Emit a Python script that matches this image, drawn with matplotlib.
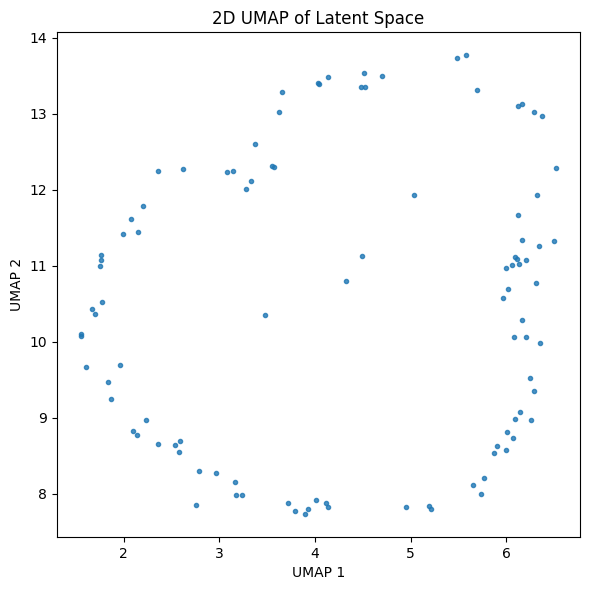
import numpy as np
import matplotlib.pyplot as plt

# ==================== 数据：UMAP 二维坐标（从图上读的） ====================
umap1 = [3.654, 3.623, 3.372, 2.356, 2.618, 3.079, 3.141, 3.330, 3.277, 3.547,
         3.571, 2.199, 2.073, 1.990, 2.147, 1.759, 1.759, 1.749, 4.031, 4.042,
         4.136, 4.513, 4.482, 4.524, 4.702, 5.487, 5.581, 5.696, 6.126, 6.168,
         6.293, 6.377, 6.524, 6.325, 5.037, 6.126, 6.168, 6.346, 6.503, 4.492,
         6.094, 6.115, 6.209, 6.063, 6.136, 6.000, 1.770, 1.665, 1.696, 1.550,
         1.550, 3.476, 1.602, 1.958, 1.832, 1.864, 2.230, 2.094, 2.136, 2.356,
         2.534, 2.586, 2.576, 2.785, 2.963, 3.162, 3.173, 3.236, 2.754, 3.717,
         3.791, 3.895, 4.325, 6.314, 6.021, 5.969, 6.168, 6.084, 6.209, 6.356,
         6.248, 6.293, 6.147, 6.094, 6.262, 6.010, 6.073, 5.906, 5.874, 6.000,
         5.770, 5.654, 5.738, 4.010, 4.115, 4.136, 3.927, 4.953, 5.194, 5.215]

umap2 = [13.289, 13.026, 12.604, 12.249, 12.275, 12.236, 12.249, 12.117, 12.012, 12.315,
         12.302, 11.788, 11.617, 11.419, 11.446, 11.143, 11.077, 10.998, 13.408, 13.394,
         13.486, 13.539, 13.355, 13.355, 13.500, 13.737, 13.776, 13.315, 13.105, 13.131,
         13.026, 12.973, 12.288, 11.933, 11.933, 11.670, 11.340, 11.261, 11.327, 11.130,
         11.117, 11.090, 11.077, 11.011, 11.024, 10.972, 10.524, 10.432, 10.366, 10.103,
         10.080, 10.353, 9.668, 9.695, 9.471, 9.247, 8.970, 8.826, 8.773, 8.654,
         8.641, 8.694, 8.549, 8.299, 8.272, 8.154, 7.983, 7.983, 7.851, 7.878,
         7.772, 7.733, 10.800, 10.774, 10.695, 10.577, 10.287, 10.063, 10.063, 9.984,
         9.523, 9.352, 9.076, 8.984, 8.970, 8.812, 8.733, 8.628, 8.536, 8.575,
         8.207, 8.115, 7.996, 7.917, 7.878, 7.825, 7.799, 7.825, 7.838, 7.799]

# ==================== 画图 ====================
fig, ax = plt.subplots(figsize=(5.9, 5.9), dpi=100)

ax.scatter(umap1, umap2, s=9, alpha=0.8, color='tab:blue')

ax.set_xlabel('UMAP 1')
ax.set_ylabel('UMAP 2')
ax.set_title('2D UMAP of Latent Space')

# 边距按原图像素对齐（590x590）
fig.subplots_adjust(left=57/590, right=580/590, top=1 - 32/590, bottom=1 - 537/590)
plt.savefig('out.png', dpi=100)
